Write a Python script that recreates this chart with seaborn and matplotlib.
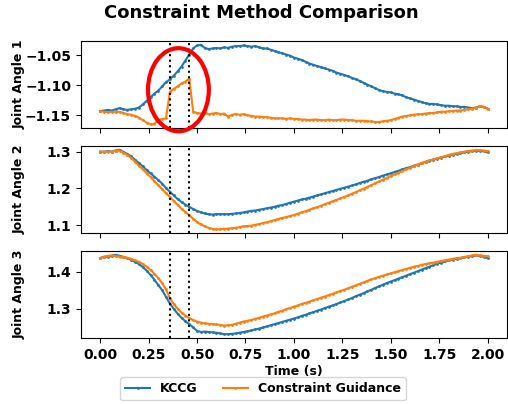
import numpy as np
import matplotlib
matplotlib.use("Agg")
import pandas as pd
import matplotlib.pyplot as plt
from matplotlib.patches import Ellipse
import seaborn as sns

# time samples (s), 0.02 s step
time = [round(0.02 * i, 2) for i in range(101)]

kccg_j1 = [
    -1.143, -1.142, -1.141, -1.142, -1.140, -1.138, -1.140, -1.141, -1.140, -1.139,
    -1.137, -1.132, -1.126, -1.120, -1.114, -1.109, -1.102, -1.095, -1.090, -1.084,
    -1.077, -1.069, -1.059, -1.049, -1.039, -1.034, -1.033, -1.038, -1.040, -1.039,
    -1.038, -1.039, -1.037, -1.038, -1.036, -1.035, -1.035, -1.034, -1.035, -1.036,
    -1.035, -1.037, -1.039, -1.039, -1.041, -1.043, -1.045, -1.047, -1.049, -1.051,
    -1.054, -1.056, -1.058, -1.061, -1.064, -1.066, -1.068, -1.070, -1.072, -1.074,
    -1.076, -1.079, -1.081, -1.083, -1.085, -1.088, -1.090, -1.093, -1.096, -1.099,
    -1.102, -1.105, -1.108, -1.110, -1.111, -1.112, -1.114, -1.115, -1.117, -1.120,
    -1.122, -1.124, -1.126, -1.128, -1.130, -1.131, -1.131, -1.132, -1.133, -1.134,
    -1.134, -1.135, -1.135, -1.136, -1.136, -1.137, -1.138, -1.137, -1.135, -1.136,
    -1.139]
cg_j1 = [
    -1.143, -1.144, -1.145, -1.144, -1.145, -1.144, -1.146, -1.148, -1.149, -1.151,
    -1.154, -1.158, -1.162, -1.165, -1.164, -1.158, -1.156, -1.155, -1.111, -1.106,
    -1.102, -1.097, -1.094, -1.089, -1.144, -1.146, -1.147, -1.146, -1.148, -1.147,
    -1.146, -1.148, -1.147, -1.152, -1.149, -1.148, -1.149, -1.148, -1.150, -1.151,
    -1.152, -1.152, -1.153, -1.153, -1.154, -1.155, -1.155, -1.155, -1.156, -1.155,
    -1.156, -1.156, -1.157, -1.157, -1.158, -1.157, -1.157, -1.158, -1.158, -1.157,
    -1.158, -1.158, -1.157, -1.157, -1.158, -1.158, -1.159, -1.159, -1.159, -1.160,
    -1.160, -1.161, -1.161, -1.160, -1.159, -1.158, -1.156, -1.154, -1.152, -1.151,
    -1.150, -1.149, -1.148, -1.148, -1.147, -1.146, -1.146, -1.145, -1.144, -1.144,
    -1.143, -1.143, -1.142, -1.142, -1.141, -1.140, -1.139, -1.137, -1.135, -1.136,
    -1.139]

kccg_j2 = [
    1.300, 1.300, 1.301, 1.300, 1.303, 1.305, 1.299, 1.294, 1.287, 1.278,
    1.269, 1.260, 1.250, 1.241, 1.232, 1.223, 1.213, 1.201, 1.191, 1.181,
    1.171, 1.163, 1.156, 1.150, 1.144, 1.139, 1.135, 1.132, 1.130, 1.129,
    1.130, 1.130, 1.130, 1.130, 1.131, 1.132, 1.133, 1.135, 1.137, 1.139,
    1.140, 1.142, 1.144, 1.146, 1.148, 1.150, 1.153, 1.155, 1.158, 1.161,
    1.164, 1.167, 1.170, 1.172, 1.175, 1.178, 1.181, 1.184, 1.187, 1.190,
    1.193, 1.196, 1.199, 1.202, 1.205, 1.208, 1.211, 1.215, 1.218, 1.221,
    1.225, 1.228, 1.231, 1.235, 1.238, 1.241, 1.245, 1.248, 1.252, 1.255,
    1.258, 1.262, 1.265, 1.269, 1.272, 1.275, 1.278, 1.281, 1.284, 1.287,
    1.289, 1.292, 1.294, 1.296, 1.298, 1.300, 1.301, 1.302, 1.302, 1.301,
    1.298]
cg_j2 = [
    1.300, 1.299, 1.300, 1.300, 1.302, 1.303, 1.297, 1.291, 1.283, 1.273,
    1.262, 1.252, 1.241, 1.231, 1.220, 1.209, 1.198, 1.187, 1.177, 1.166,
    1.155, 1.145, 1.136, 1.127, 1.118, 1.109, 1.102, 1.097, 1.093, 1.090,
    1.089, 1.089, 1.090, 1.091, 1.092, 1.093, 1.095, 1.097, 1.098, 1.099,
    1.101, 1.103, 1.106, 1.108, 1.111, 1.114, 1.117, 1.120, 1.122, 1.125,
    1.128, 1.131, 1.135, 1.138, 1.142, 1.146, 1.149, 1.153, 1.157, 1.161,
    1.165, 1.169, 1.173, 1.177, 1.181, 1.186, 1.190, 1.195, 1.199, 1.204,
    1.209, 1.214, 1.219, 1.224, 1.229, 1.234, 1.238, 1.243, 1.247, 1.252,
    1.256, 1.261, 1.265, 1.269, 1.273, 1.276, 1.279, 1.282, 1.285, 1.288,
    1.291, 1.294, 1.296, 1.298, 1.300, 1.302, 1.303, 1.304, 1.304, 1.303,
    1.301]

kccg_j3 = [
    1.436, 1.439, 1.440, 1.441, 1.445, 1.442, 1.439, 1.436, 1.431, 1.426,
    1.420, 1.412, 1.402, 1.391, 1.378, 1.364, 1.350, 1.332, 1.314, 1.300,
    1.287, 1.276, 1.267, 1.259, 1.250, 1.241, 1.238, 1.239, 1.238, 1.237,
    1.236, 1.234, 1.232, 1.232, 1.233, 1.234, 1.236, 1.238, 1.240, 1.242,
    1.245, 1.247, 1.250, 1.253, 1.256, 1.259, 1.262, 1.265, 1.268, 1.271,
    1.274, 1.277, 1.281, 1.284, 1.288, 1.291, 1.295, 1.298, 1.302, 1.306,
    1.309, 1.313, 1.317, 1.321, 1.325, 1.329, 1.334, 1.338, 1.342, 1.347,
    1.351, 1.356, 1.360, 1.365, 1.369, 1.373, 1.377, 1.381, 1.385, 1.389,
    1.393, 1.397, 1.401, 1.405, 1.409, 1.413, 1.417, 1.421, 1.424, 1.427,
    1.430, 1.432, 1.434, 1.436, 1.438, 1.440, 1.441, 1.443, 1.442, 1.439,
    1.436]
cg_j3 = [
    1.436, 1.440, 1.442, 1.443, 1.441, 1.440, 1.439, 1.437, 1.434, 1.430,
    1.426, 1.420, 1.413, 1.404, 1.394, 1.382, 1.369, 1.352, 1.328, 1.313,
    1.300, 1.290, 1.282, 1.275, 1.270, 1.266, 1.263, 1.261, 1.260, 1.259,
    1.258, 1.257, 1.255, 1.256, 1.257, 1.260, 1.263, 1.266, 1.268, 1.270,
    1.273, 1.276, 1.279, 1.282, 1.285, 1.288, 1.292, 1.295, 1.299, 1.302,
    1.306, 1.309, 1.313, 1.316, 1.319, 1.323, 1.326, 1.330, 1.333, 1.337,
    1.340, 1.344, 1.348, 1.351, 1.355, 1.359, 1.363, 1.367, 1.371, 1.375,
    1.379, 1.382, 1.386, 1.389, 1.392, 1.395, 1.398, 1.401, 1.404, 1.407,
    1.410, 1.413, 1.415, 1.418, 1.420, 1.422, 1.424, 1.426, 1.428, 1.430,
    1.432, 1.434, 1.436, 1.437, 1.439, 1.441, 1.443, 1.445, 1.443, 1.442,
    1.441]

guidance_window = [0.36, 0.46]
methods = ["KCCG", "Constraint Guidance"]
joint_names = ["Joint Angle 1", "Joint Angle 2", "Joint Angle 3"]

plt.rcParams["font.weight"] = "bold"
plt.rcParams["axes.labelweight"] = "bold"
plt.rcParams["font.size"] = 10
plt.rcParams["axes.labelsize"] = 9

fig, axes = plt.subplots(3, 1, figsize=(5.08, 4.05), dpi=100, sharex=True)
fig.subplots_adjust(left=0.159, right=0.998, top=0.899, bottom=0.165, hspace=0.2)

series = [(kccg_j1, cg_j1), (kccg_j2, cg_j2), (kccg_j3, cg_j3)]
colors = ["#1f77b4", "#ff7f0e"]

for ax, (kc, cg), name in zip(axes, series, joint_names):
    sns.lineplot(x=time, y=kc, ax=ax, color=colors[0], marker=".", markersize=4,
                 markeredgewidth=0, linewidth=1.5, label=methods[0], legend=False)
    sns.lineplot(x=time, y=cg, ax=ax, color=colors[1], marker=".", markersize=4,
                 markeredgewidth=0, linewidth=1.5, label=methods[1], legend=False)
    for t in guidance_window:
        ax.axvline(t, color="black", linestyle=":", linewidth=1.5)
    ax.set_ylabel(name)
    ax.yaxis.set_label_coords(-0.129, 0.5)

axes[0].add_patch(Ellipse((0.404, -1.1075), width=0.314, height=0.138, fill=False,
                          edgecolor="red", linewidth=3, clip_on=False, zorder=5))

axes[2].set_xticks([0, 0.25, 0.5, 0.75, 1.0, 1.25, 1.5, 1.75, 2.0])
axes[2].set_xlabel("Time (s)", labelpad=2)

fig.suptitle("Constraint Method Comparison", fontsize=13, fontweight="bold",
             x=0.515, y=0.99)

handles, labels = axes[0].get_legend_handles_labels()
fig.legend(handles, labels, loc="center", ncol=2, fontsize=9,
           bbox_to_anchor=(0.518, 0.04))

plt.savefig("out.png", dpi=100)
